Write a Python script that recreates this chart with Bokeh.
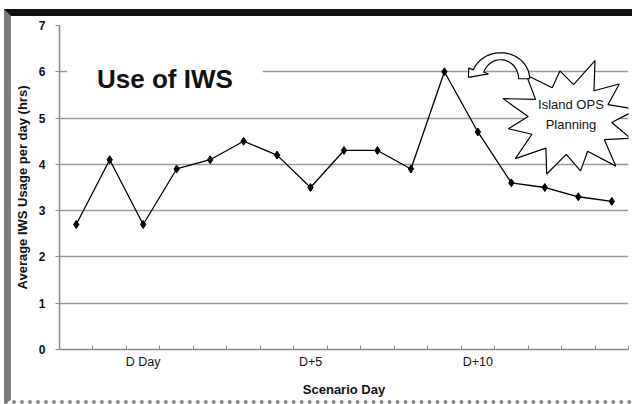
import numpy as np
from bokeh.plotting import figure
from bokeh.models import Range1d, FixedTicker, Label
from bokeh.embed import file_html
from bokeh.resources import INLINE
from bokeh.core.properties import value

# ---------------- data ----------------
days = [-2, -1, 0, 1, 2, 3, 4, 5, 6, 7, 8, 9, 10, 11, 12, 13, 14]
usage = [2.7, 4.1, 2.7, 3.9, 4.1, 4.5, 4.2, 3.5, 4.3, 4.3, 3.9, 6.0, 4.7, 3.6, 3.5, 3.3, 3.2]
tick_days = [0, 5, 10]
tick_labels = ["D Day", "D+5", "D+10"]
y_ticks = [0, 1, 2, 3, 4, 5, 6, 7]

chart_title = "Use of IWS"
note_lines = ["Island OPS", "Planning"]
x_title = "Scenario Day"
y_title = "Average IWS Usage per day (hrs)"

FONT = "Liberation Sans"

# ---------------- figure ----------------
x_lo, x_hi = days[0] - 0.5, days[-1] + 0.5
y_lo, y_hi = y_ticks[0], y_ticks[-1]
FIG_W, FIG_H = 628, 395
MB_L, MB_R, MB_T, MB_B = 47, 11, 9, 62
FRAME_W = FIG_W - MB_L - MB_R
FRAME_H = FIG_H - MB_T - MB_B
sx = FRAME_W / (x_hi - x_lo)   # px per x unit
sy = FRAME_H / (y_hi - y_lo)   # px per y unit

p = figure(width=FIG_W, height=FIG_H, output_backend="svg", toolbar_location=None,
           x_range=Range1d(x_lo, x_hi), y_range=Range1d(y_lo, y_hi),
           min_border_left=MB_L, min_border_right=MB_R,
           min_border_top=MB_T, min_border_bottom=MB_B)
p.styles = {
    "margin-top": "9px",
    "margin-left": "4px",
    "border-top": "7px solid #111111",
    "border-left": "7px solid #7a7a7a",
    "border-bottom": "4px dotted #8a8a8a",
}
p.outline_line_color = None
p.background_fill_color = "white"
p.border_fill_color = "white"

# grid
p.xgrid.grid_line_color = None
p.ygrid.grid_line_color = "#9a9a9a"
p.ygrid.grid_line_width = 1.5
p.ygrid.ticker = FixedTicker(ticks=y_ticks)

# x axis
p.xaxis.ticker = FixedTicker(ticks=tick_days,
                             minor_ticks=[d - 0.5 for d in days] + [days[-1] + 0.5])
p.xaxis.major_label_overrides = {d: l for d, l in zip(tick_days, tick_labels)}
p.xaxis.axis_line_color = "#8a8a8a"
p.xaxis.axis_line_width = 1.5
p.xaxis.major_tick_line_color = None
p.xaxis.major_tick_out = 0
p.xaxis.major_tick_in = 0
p.xaxis.minor_tick_line_color = "#8a8a8a"
p.xaxis.minor_tick_in = 4
p.xaxis.minor_tick_out = 0
p.xaxis.major_label_standoff = 5
p.xaxis.major_label_text_font = FONT
p.xaxis.major_label_text_font_size = "12.5px"
p.xaxis.major_label_text_color = "#111111"
p.xaxis.axis_label = x_title
p.xaxis.axis_label_text_font = FONT
p.xaxis.axis_label_text_font_size = "13px"
p.xaxis.axis_label_text_font_style = "bold"
p.xaxis.axis_label_text_color = "#111111"
p.xaxis.axis_label_standoff = 10

# y axis
p.yaxis.ticker = FixedTicker(ticks=y_ticks)
p.yaxis.axis_line_color = "#8a8a8a"
p.yaxis.axis_line_width = 1.5
p.yaxis.major_tick_line_color = "#8a8a8a"
p.yaxis.major_tick_out = 4
p.yaxis.major_tick_in = 0
p.yaxis.minor_tick_line_color = None
p.yaxis.major_label_standoff = 10
p.yaxis.major_label_text_font = FONT
p.yaxis.major_label_text_font_size = "12px"
p.yaxis.major_label_text_font_style = "bold"
p.yaxis.major_label_text_color = "#111111"
p.yaxis.axis_label = y_title
p.yaxis.axis_label_text_font = FONT
p.yaxis.axis_label_text_font_size = "13px"
p.yaxis.axis_label_text_font_style = "bold"
p.yaxis.axis_label_text_color = "#111111"
p.yaxis.axis_label_standoff = 6

# ---------------- title inside plot ----------------
tx, ty = 0.65, 5.85
p.quad(left=[tx - 98 / sx], right=[tx + 98 / sx], bottom=[5.9], top=[6.1],
       fill_color="white", line_color=None)
p.add_layout(Label(x=tx, y=ty, text=chart_title, text_align="center",
                   text_baseline="alphabetic", text_font=FONT,
                   text_font_size="26px", text_font_style="bold",
                   text_color="#111111"))

# ---------------- data line ----------------
p.line(days, usage, line_color="black", line_width=1.3)
p.scatter(days, usage, marker="diamond", size=8, fill_color="black",
          line_color="black")

# ---------------- starburst annotation ----------------
scx, scy = 12.75, 4.97
n_sp = 12
outer_f = [1.0, 0.95, 1.08, 0.85, 1.0, 1.05, 0.92, 1.05, 1.0, 0.9, 1.05, 0.95]
ang_out = np.radians(10 + 30 * np.arange(n_sp))
ang_in = ang_out + np.radians(15)
xs_star, ys_star = [], []
for k in range(n_sp):
    f = outer_f[k]
    xs_star.append(scx + 68 * f * np.cos(ang_out[k]) / sx)
    ys_star.append(scy + 58 * f * np.sin(ang_out[k]) / sy)
    xs_star.append(scx + 42 * np.cos(ang_in[k]) / sx)
    ys_star.append(scy + 35 * np.sin(ang_in[k]) / sy)
p.patch(xs_star, ys_star, fill_color="white", line_color="black", line_width=1.2)
for i, t in enumerate(note_lines):
    p.add_layout(Label(x=scx + 1 / sx, y=scy + (15 - 20 * i) / sy, text=t,
                       text_align="center", text_baseline="middle",
                       text_font=FONT, text_font_size="13px",
                       text_color="#111111"))

# ---------------- curved arrow annotation ----------------
acx, acy = 10.68, 5.85
ro = (29, 26)
ri = (18, 19)
end = 160
a_body = np.radians(np.linspace(0, end, 30))
outer_x = acx + ro[0] * np.cos(a_body) / sx
outer_y = acy + ro[1] * np.sin(a_body) / sy
inner_x = acx + ri[0] * np.cos(a_body[::-1]) / sx
inner_y = acy + ri[1] * np.sin(a_body[::-1]) / sy
ae = np.radians(end)
ho = (acx + (ro[0] + 5) * np.cos(ae) / sx, acy + (ro[1] + 5) * np.sin(ae) / sy)
hi = (acx + (ri[0] - 5) * np.cos(ae) / sx, acy + (ri[1] - 5) * np.sin(ae) / sy)
mid = (acx + 23.5 * np.cos(ae) / sx, acy + 22.5 * np.sin(ae) / sy)
tip = (mid[0] - 12 * 0.85 / sx, mid[1] - 12 * 0.53 / sy)
ax = list(outer_x) + [ho[0], tip[0], hi[0]] + list(inner_x)
ay = list(outer_y) + [ho[1], tip[1], hi[1]] + list(inner_y)
p.patch(ax, ay, fill_color="white", line_color="black", line_width=1.2)

open("out.html", "w").write(file_html(p, INLINE))
